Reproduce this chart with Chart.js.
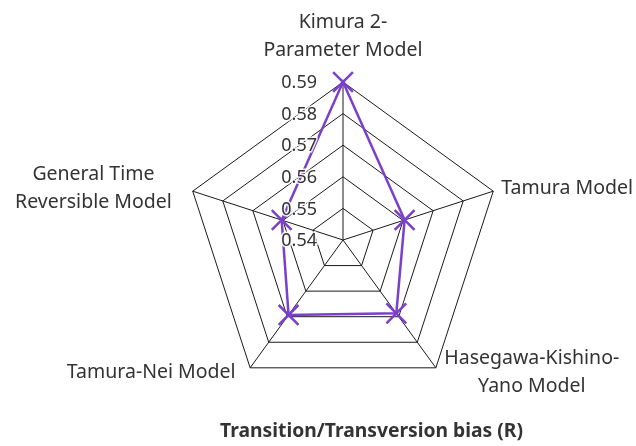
<!DOCTYPE html>
<html>
<head>
<meta charset="utf-8">
<script src="https://cdn.jsdelivr.net/npm/chart.js@4"></script>
<style>
  body { margin: 0; background: #fff; }
  #wrap { width: 636px; height: 446px; }
</style>
</head>
<body>
<div id="wrap"><canvas id="radarChart" width="636" height="446"></canvas></div>
<script>
const models = [
    ["Kimura 2-", "Parameter Model"],
    ["Tamura Model"],
    ["Hasegawa-Kishino-", "Yano Model"],
    ["Tamura-Nei Model"],
    ["General Time", "Reversible Model"]
];
const biasValues = [0.59, 0.5605, 0.5687, 0.5693, 0.5604];
const tickValues = [0.54, 0.55, 0.56, 0.57, 0.58, 0.59];

const fontFamily = "'Noto Sans', sans-serif";
const purple = "#7b3fcc";

// where each axis label block sits relative to its outer vertex
const labelPlacement = [
    { side: "center", dx: 0, dy: -46 },
    { side: "left", dx: 8, dy: -3 },
    { side: "left", dx: 8.5, dy: 5 },
    { side: "right", dx: -14.5, dy: 5 },
    { side: "right", dx: -21, dy: -3 }
];

const axisLabelPlugin = {
    id: "axisLabels",
    afterDraw(chart) {
        const scale = chart.scales.r;
        const ctx = chart.ctx;
        const lineH = 28;
        ctx.save();
        ctx.font = "19.5px " + fontFamily;
        ctx.fillStyle = "#333";
        ctx.textAlign = "center";
        ctx.textBaseline = "middle";
        chart.data.labels.forEach((lines, i) => {
            const p = scale.getPointPosition(i, scale.drawingArea);
            const place = labelPlacement[i];
            const w = Math.max(...lines.map(l => ctx.measureText(l).width));
            let cx = p.x + place.dx;
            if (place.side === "left") cx += w / 2;
            if (place.side === "right") cx -= w / 2;
            const top = p.y + place.dy - (lines.length - 1) * lineH / 2;
            lines.forEach((l, k) => ctx.fillText(l, cx, top + k * lineH));
        });
        ctx.restore();
    }
};

// tick labels sit left of the top axis, 0.54 included at the centre
const tickLabelPlugin = {
    id: "tickLabels",
    afterDatasetsDraw(chart) {
        const scale = chart.scales.r;
        const ctx = chart.ctx;
        ctx.save();
        ctx.font = "18px " + fontFamily;
        ctx.textAlign = "right";
        ctx.textBaseline = "middle";
        tickValues.forEach(v => {
            const p = scale.getPointPositionForValue(0, v);
            ctx.lineWidth = 3;
            ctx.strokeStyle = "rgba(255,255,255,0.85)";
            ctx.strokeText(v.toFixed(2), p.x - 26, p.y + 1);
            ctx.fillStyle = "#333";
            ctx.fillText(v.toFixed(2), p.x - 26, p.y + 1);
        });
        ctx.restore();
    }
};

new Chart(document.getElementById("radarChart"), {
    type: "radar",
    data: {
        labels: models,
        datasets: [{
            label: "R",
            data: biasValues,
            borderColor: purple,
            backgroundColor: "rgba(0,0,0,0)",
            borderWidth: 2.5,
            fill: false,
            pointStyle: "crossRot",
            pointRadius: 14,
            pointBorderWidth: 2.5,
            pointBorderColor: purple,
            pointHoverRadius: 14
        }]
    },
    options: {
        responsive: false,
        animation: false,
        layout: {
            padding: { left: 163, right: 113, top: 82, bottom: 3 }
        },
        plugins: {
            legend: { display: false },
            tooltip: { enabled: false },
            title: {
                display: true,
                position: "bottom",
                align: "end",
                text: "Transition/Transversion bias (R)",
                color: "#333",
                font: { family: fontFamily, size: 19.3, weight: "bold" },
                padding: { top: 20, bottom: 0 }
            }
        },
        scales: {
            r: {
                min: 0.54,
                max: 0.59,
                ticks: { display: false, stepSize: 0.01 },
                grid: { color: "#1a1a1a", lineWidth: 1 },
                angleLines: { color: "#1a1a1a", lineWidth: 1 },
                pointLabels: { display: false }
            }
        }
    },
    plugins: [axisLabelPlugin, tickLabelPlugin]
});
</script>
</body>
</html>
